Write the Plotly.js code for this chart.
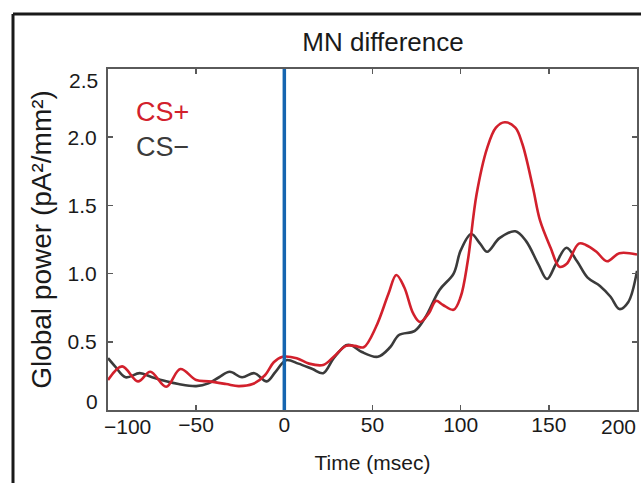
<!DOCTYPE html>
<html>
<head>
<meta charset="utf-8">
<script src="https://cdn.plot.ly/plotly-3.0.1.min.js"></script>
<style>
  html, body { margin: 0; padding: 0; background: #fff; }
  #chart { width: 641px; height: 483px; }
</style>
</head>
<body>
<div id="chart"></div>
<script>
// ---- Data ----
const timeCSplus = [-100, -92, -83, -76, -67, -59, -50, -43, -33, -26, -18, -11, -6, -1, 7, 14, 22, 28, 35, 40, 45, 52, 59, 63.5, 68, 73, 77, 82, 86, 90, 96, 100, 104, 109, 115, 120, 125, 131, 135, 141, 145, 151, 156, 160, 167, 171, 177, 183, 190, 200];
const valuesCSplus = [0.22, 0.32, 0.21, 0.28, 0.17, 0.30, 0.22, 0.21, 0.19, 0.175, 0.19, 0.255, 0.35, 0.39, 0.38, 0.34, 0.33, 0.39, 0.47, 0.47, 0.46, 0.61, 0.85, 0.99, 0.90, 0.71, 0.645, 0.71, 0.80, 0.77, 0.735, 0.83, 1.09, 1.58, 1.92, 2.07, 2.11, 2.07, 1.95, 1.63, 1.39, 1.19, 1.05, 1.07, 1.22, 1.21, 1.16, 1.09, 1.15, 1.14];

const timeCSminus = [-100, -96, -90, -82, -75, -67, -60, -50, -43, -37, -31, -24, -17, -10, -5, 1, 8, 16, 22, 28, 35, 38, 44, 53, 60, 65, 74, 80, 88, 96, 100, 106, 111, 115, 122, 131, 137, 144, 149, 154, 160, 166, 172, 179, 185, 190, 195, 200];
const valuesCSminus = [0.38, 0.32, 0.24, 0.27, 0.24, 0.21, 0.19, 0.175, 0.195, 0.24, 0.28, 0.24, 0.27, 0.21, 0.28, 0.365, 0.34, 0.30, 0.27, 0.38, 0.475, 0.475, 0.425, 0.39, 0.46, 0.55, 0.58, 0.68, 0.88, 1.0, 1.17, 1.29, 1.22, 1.16, 1.26, 1.31, 1.24, 1.07, 0.96, 1.07, 1.19, 1.09, 0.97, 0.91, 0.83, 0.74, 0.79, 1.02];

const seriesNames = ["CS+", "CS\u2212"];
const stimulusTime = 0;

const xTickVals = [-100, -50, 0, 50, 100, 150, 200];
const xTickText = ["", "\u221250", "0", "50", "100", "150", ""];
const yTickVals = [0, 0.5, 1.0, 1.5, 2.0, 2.5];
const yTickText = ["", "0.5", "1.0", "1.5", "2.0", ""];
const xRange = [-100, 200];
const yRange = [0, 2.5];

// ---- Styles ----
const RED = "#d2202c";
const DARK = "#3b3b3b";
const BLUE = "#1565b0";
const AXIS = "#5a5a5a";
const FONT = "Liberation Sans, Arial, sans-serif";
const TXT = "#1a1a1a";

const traces = [
  {
    x: timeCSminus, y: valuesCSminus, name: seriesNames[1],
    type: "scatter", mode: "lines",
    line: { color: DARK, width: 2.6, shape: "spline", smoothing: 1 },
    hoverinfo: "skip"
  },
  {
    x: timeCSplus, y: valuesCSplus, name: seriesNames[0],
    type: "scatter", mode: "lines",
    line: { color: RED, width: 2.6, shape: "spline", smoothing: 1 },
    hoverinfo: "skip"
  }
];

const W = 641, H = 483;
const m = { l: 108, r: 4, t: 69, b: 73 };
const pw = W - m.l - m.r, ph = H - m.t - m.b;
const px = v => (v - m.l) / pw;      // pixel x -> paper x
const py = v => (H - m.b - v) / ph;  // pixel y -> paper y

const layout = {
  width: W, height: H,
  margin: m,
  paper_bgcolor: "#fff",
  plot_bgcolor: "#fff",
  showlegend: false,
  font: { family: FONT, color: TXT, size: 21 },
  title: {
    text: "MN difference",
    font: { family: FONT, size: 26, color: TXT },
    x: px(383), xanchor: "center", xref: "paper",
    y: 1 - 42 / H, yanchor: "middle", yref: "container"
  },
  xaxis: {
    range: xRange,
    tickvals: xTickVals, ticktext: xTickText,
    ticks: "inside", ticklen: 5, tickwidth: 1.5, tickcolor: AXIS,
    showline: true, linecolor: AXIS, linewidth: 2, mirror: "ticks",
    showgrid: false, zeroline: false,
    tickfont: { family: FONT, size: 21, color: TXT },
    ticklabelstandoff: -5,
    title: { text: "Time (msec)", font: { family: FONT, size: 21, color: TXT }, standoff: 20 }
  },
  yaxis: {
    range: yRange,
    tickvals: yTickVals, ticktext: yTickText,
    ticks: "inside", ticklen: 5, tickwidth: 1.5, tickcolor: AXIS,
    showline: true, linecolor: AXIS, linewidth: 2, mirror: "ticks",
    showgrid: false, zeroline: false,
    tickfont: { family: FONT, size: 21, color: TXT },
    ticklabelstandoff: 5,
    title: { text: "Global power (pA\u00b2/mm\u00b2)", font: { family: FONT, size: 28, color: TXT }, standoff: 8 }
  },
  shapes: [
    { type: "line", xref: "x", yref: "paper", x0: stimulusTime, x1: stimulusTime, y0: 0, y1: 1,
      line: { color: BLUE, width: 3.5 }, layer: "above" },
    // outer figure frame (left and top edges)
    { type: "line", xref: "paper", yref: "paper", x0: px(13), x1: px(13), y0: py(14), y1: py(H + 5),
      line: { color: TXT, width: 3 } },
    { type: "line", xref: "paper", yref: "paper", x0: px(13), x1: px(W + 5), y0: py(14), y1: py(14),
      line: { color: TXT, width: 3 } }
  ],
  annotations: [
    { text: seriesNames[0], xref: "paper", yref: "paper", x: px(134), y: py(112), xanchor: "left", yanchor: "middle",
      showarrow: false, font: { family: FONT, size: 27, color: RED } },
    { text: seriesNames[1], xref: "paper", yref: "paper", x: px(134), y: py(147), xanchor: "left", yanchor: "middle",
      showarrow: false, font: { family: FONT, size: 27, color: DARK } },
    // edge tick labels, nudged inward as in the reference
    { text: "\u2212100", xref: "x", yref: "paper", x: xRange[0], y: 0, xanchor: "left", yanchor: "top",
      xshift: -6, yshift: -3, showarrow: false, font: { family: FONT, size: 21, color: TXT } },
    { text: "200", xref: "x", yref: "paper", x: xRange[1], y: 0, xanchor: "right", yanchor: "top",
      xshift: 1, yshift: -3, showarrow: false, font: { family: FONT, size: 21, color: TXT } },
    { text: "0", xref: "paper", yref: "y", x: 0, y: yRange[0], xanchor: "right", yanchor: "bottom",
      xshift: -8, yshift: -5, showarrow: false, font: { family: FONT, size: 21, color: TXT } },
    { text: "2.5", xref: "paper", yref: "y", x: 0, y: yRange[1], xanchor: "right", yanchor: "top",
      xshift: -8, yshift: 2, showarrow: false, font: { family: FONT, size: 21, color: TXT } }
  ]
};

Plotly.newPlot("chart", traces, layout, { displayModeBar: false, staticPlot: true });
</script>
</body>
</html>
